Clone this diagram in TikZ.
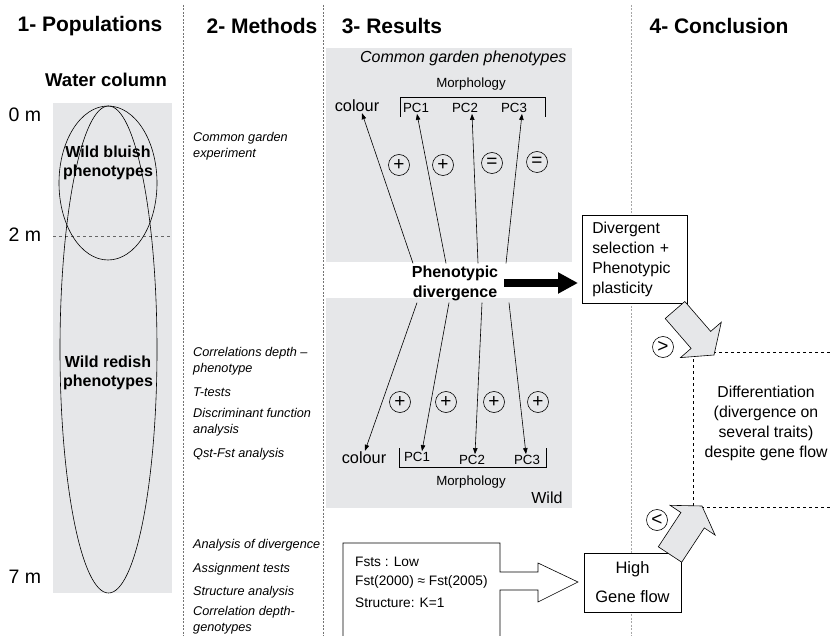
\documentclass[tikz,border=0pt]{standalone}
\usepackage{fontspec}
\setmainfont{Liberation Sans}
\usepackage{tikz}
\usetikzlibrary{calc,  positioning,  arrows.meta}
\definecolor{panelgray}{RGB}{230,231,233}
\tikzset{
  coltitle/.style={font=\fontsize{21}{25}\selectfont\bfseries},
  depthlbl/.style={font=\fontsize{19.5}{23}\selectfont},
  popl/.style={font=\fontsize{16}{19.5}\selectfont\bfseries,  align=center},
  meth/.style={font=\fontsize{12.7}{16.5}\selectfont\itshape,  anchor=west,  align=left,  inner sep=0pt},
  trait/.style={font=\fontsize{13.3}{16}\selectfont,  inner sep=1pt},
  signc/.style={draw,  circle,  minimum size=21pt,  inner sep=0pt,  line width=0.6pt,  font=\fontsize{19}{20}\selectfont},
  colsep/.style={dash pattern=on 2pt off 1.5pt,  line width=0.6pt},
  resarrow/.style={-{Triangle[length=6pt,  width=4.5pt]},  line width=0.6pt},
  blockarrow/.style={draw,  fill=panelgray,  line width=0.6pt,  line join=miter},
  concl/.style={font=\fontsize{15.8}{20}\selectfont},
}
\begin{document}
\begin{tikzpicture}[x=1pt,  y=-1pt]
          \useasboundingbox (0,0) rectangle (830,636);
          \fill[panelgray] (53,103) rectangle (172,593);
          \fill[panelgray] (326,48) rectangle (572,262);
          \fill[panelgray] (326,298) rectangle (572,508);
          \draw[colsep,  gray!90!black] (183,5) -- (183,636);
          \draw[colsep,  gray!90!black] (323,5) -- (323,636);
          \draw[colsep,  gray!70] (631,5) -- (631,636);
          \node[coltitle] (t1) at (90,26) {1- Populations};
          \node[coltitle] (t2) at (262,26) {2- Methods};
          \node[coltitle] (t3) at (392,26) {3- Results};
          \node[coltitle] (t4) at (719,26) {4- Conclusion};
          \node[font=\fontsize{18.5}{22}\selectfont\bfseries] (water) at (106,80) {Water column};
          \node[depthlbl] (d0) at (25,115) {0 m};
          \node[depthlbl] (d2) at (25,235) {2 m};
          \node[depthlbl] (d7) at (25,577) {7 m};
          \draw[dashed,  gray!80!black,  line width=0.6pt] (53,236) -- (172,236);
          \draw[line width=0.6pt] (108,183) ellipse [x radius=49pt,  y radius=77pt];
          \draw[line width=0.6pt] (108.5,349.5) ellipse [x radius=48.5pt,  y radius=243.5pt];
          \node[popl] (bluish) at (108,163) {Wild bluish\\phenotypes};
          \node[popl] (redish) at (108,373) {Wild redish\\phenotypes};
          \node[meth] (m1) at (193,146) {Common garden\\experiment};
          \node[meth] (m2) at (193,361) {Correlations depth --\\phenotype};
          \node[meth] (m3) at (193,392) {T-tests};
          \node[meth] (m4) at (193,422) {Discriminant function\\analysis};
          \node[meth] (m5) at (193,454) {Qst-Fst analysis};
          \node[meth] (m6) at (193,545) {Analysis of divergence};
          \node[meth] (m7) at (193,569) {Assignment tests};
          \node[meth] (m8) at (193,592) {Structure analysis};
          \node[meth] (m9) at (193,620) {Correlation depth-\\genotypes};
          \node[font=\fontsize{16}{20}\selectfont\itshape,  anchor=east] (cgp) at (570,58) {Common garden phenotypes};
          \node[trait] (cgmorph) at (471,84) {Morphology};
          \node[trait,  font=\fontsize{16.3}{18}\selectfont] (cgcol) at (357,106) {colour};
          \node[trait] (cgpc1) at (416,108) {PC1};
          \node[trait] (cgpc2) at (465,108) {PC2};
          \node[trait] (cgpc3) at (514,108) {PC3};
          \draw[line width=0.6pt] (400,117) -- (400,97) -- (545,97) -- (545,117);
          \node[font=\fontsize{16}{20}\selectfont\bfseries,  align=center,  inner sep=2pt] (div) at (455,283) {Phenotypic\\divergence};
          \draw[resarrow] ([xshift=-42pt]div.north) -- ([xshift=5pt]cgcol.south);
          \draw[resarrow] ([xshift=-9pt]div.north) -- ([xshift=1pt]cgpc1.south);
          \draw[resarrow] ([xshift=23pt]div.north) -- ([xshift=7pt]cgpc2.south);
          \draw[resarrow] ([xshift=51pt]div.north) -- ([xshift=8pt]cgpc3.south);
          \node[signc] (cs1) at (399,165) {+};
          \node[signc] (cs2) at (443,165) {+};
          \node[signc] (cs3) at (492,163) {=};
          \node[signc] (cs4) at (537,162) {=};
          \node[trait,  font=\fontsize{16.3}{18}\selectfont] (wcol) at (364,458) {colour};
          \node[trait] (wpc1) at (417,457) {PC1};
          \node[trait] (wpc2) at (472,460) {PC2};
          \node[trait] (wpc3) at (527,460) {PC3};
          \node[trait] (wmorph) at (471,482) {Morphology};
          \draw[line width=0.6pt] (399,448) -- (399,467) -- (546,467) -- (546,448);
          \node[font=\fontsize{16}{20}\selectfont,  anchor=east] (wild) at (566,498) {Wild};
          \draw[resarrow] ([xshift=-38pt]div.south) -- ([xshift=1pt]wcol.north);
          \draw[resarrow] ([xshift=-6pt]div.south) -- ([xshift=5pt]wpc1.north);
          \draw[resarrow] ([xshift=27pt]div.south) -- ([xshift=3pt]wpc2.north);
          \draw[resarrow] ([xshift=54pt]div.south) -- ([xshift=-1pt]wpc3.north);
          \node[signc] (ws1) at (400,402) {+};
          \node[signc] (ws2) at (446,402) {+};
          \node[signc] (ws3) at (494,402) {+};
          \node[signc] (ws4) at (538,402) {+};
          \node[concl,  draw,  fill=white,  line width=0.6pt,  align=left,  anchor=north west,  text width=85pt,  inner xsep=10pt,  minimum width=105pt,  minimum height=88pt] (divsel) at (582,215) {Divergent\\selection +\\Phenotypic\\plasticity};
          \draw[line width=8pt,  -{Triangle[length=20pt,  width=20pt]},  shorten <=4pt,  shorten >=4pt] (div.east) -- (div.east -| divsel.west);
          \draw[dashed,  line width=0.6pt] (830,352) -- (693,352) -- (693,507) -- (830,507);
          \node[concl,  align=center] (diff) at (766,423) {Differentiation\\(divergence on\\several traits)\\despite gene flow};
          \node[concl,  draw,  fill=white,  line width=0.6pt,  align=center,  minimum width=97pt,  minimum height=59pt,  font=\fontsize{16.5}{20}\selectfont] (flow) at (632.5,582.5) {High\\[9pt]Gene flow};
          \draw[blockarrow] (684.8,301.5) -- (710.7,331.4) -- (721.3,322.2) -- (714,355) -- (680.5,357.6) -- (691.1,348.4) -- (665.2,318.5) -- cycle;
          \draw[blockarrow] (658.3,546.8) -- (680.9,512.5) -- (670.1,505.3) -- (702,506) -- (715.1,535.1) -- (704.3,527.9) -- (681.7,562.2) -- cycle;
          \node[signc] (gt) at (663,347) {>};
          \node[signc] (lt) at (657,520) {<};
          \draw[fill=white,  line width=0.6pt,  line join=miter] (343,636) -- (343,543) -- (500,543) -- (500,572) -- (538,572) -- (538,563) -- (578,582) -- (538,602) -- (538,590) -- (500,590) -- (500,636);
          \node[anchor=west,  font=\fontsize{13.7}{16}\selectfont,  inner sep=0pt] (fst1) at (355,562) {Fsts : Low};
          \node[anchor=west,  font=\fontsize{13.7}{16}\selectfont,  inner sep=0pt] (fst2) at (355,582) {Fst(2000) ≈ Fst(2005)};
          \node[anchor=west,  font=\fontsize{13.7}{16}\selectfont,  inner sep=0pt] (fst3) at (355,603) {Structure: K=1};
\end{tikzpicture}
\end{document}
